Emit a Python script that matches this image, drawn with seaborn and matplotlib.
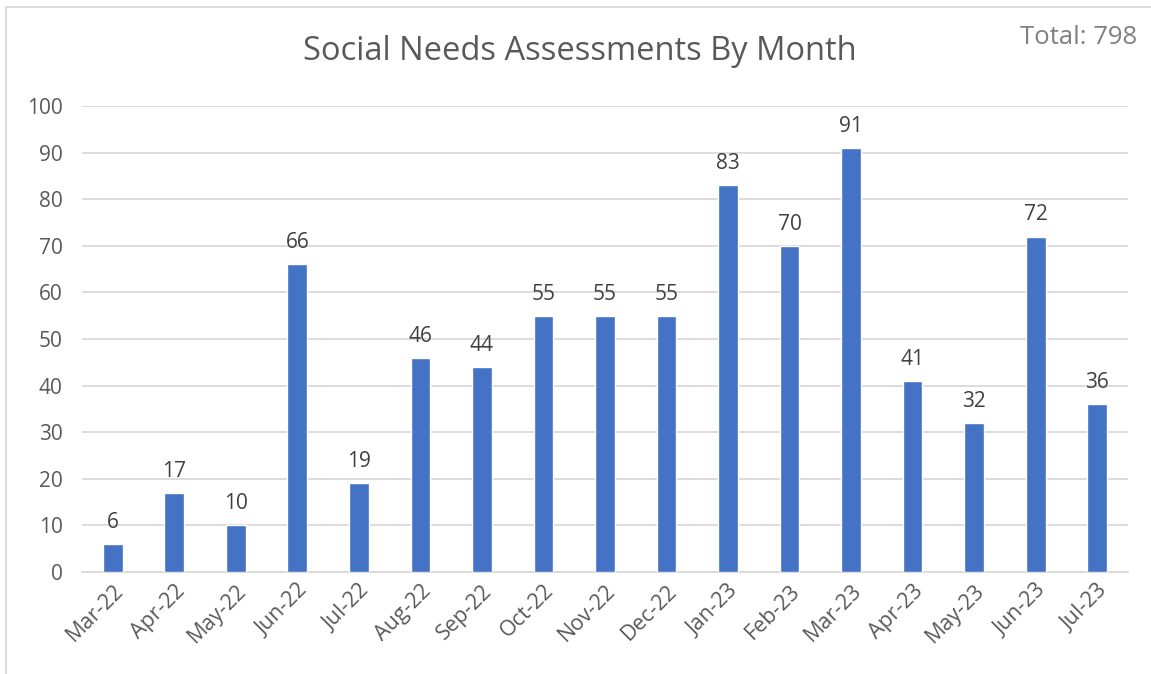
import matplotlib
matplotlib.use("Agg")
import matplotlib.pyplot as plt
import seaborn as sns
import pandas as pd
from matplotlib.patches import Rectangle

months = ["Mar-22", "Apr-22", "May-22", "Jun-22", "Jul-22", "Aug-22", "Sep-22", "Oct-22",
          "Nov-22", "Dec-22", "Jan-23", "Feb-23", "Mar-23", "Apr-23", "May-23", "Jun-23", "Jul-23"]
counts = [6, 17, 10, 66, 19, 46, 44, 55, 55, 55, 83, 70, 91, 41, 32, 72, 36]
yticks = [0, 10, 20, 30, 40, 50, 60, 70, 80, 90, 100]

sns.set_theme(style="white")
plt.rcParams['font.family'] = ['Open Sans', 'DejaVu Sans']

df = pd.DataFrame({"month": months, "count": counts})

fig = plt.figure(figsize=(11.51, 6.74), dpi=100)
ax = fig.add_axes([0.0712, 0.1513, 0.9088, 0.6914])

sns.barplot(data=df, x="month", y="count", color="#4472C4", width=0.32,
            saturation=1, ax=ax, zorder=3)

ax.set_ylim(0, 100)
ax.set_yticks(yticks)
ax.yaxis.grid(True, color="#D9D9D9", linewidth=1.3, zorder=0)
ax.set_axisbelow(True)
for s in ["top", "right", "left"]:
    ax.spines[s].set_visible(False)
ax.spines["bottom"].set_color("#D9D9D9")
ax.spines["bottom"].set_linewidth(1.3)
ax.set_xlabel("")
ax.set_ylabel("")
ax.tick_params(axis="y", length=0, colors="#595959", labelsize=15, pad=14)
ax.tick_params(axis="x", length=0, colors="#595959", labelsize=15.5, pad=6)
plt.setp(ax.get_xticklabels(), rotation=45, ha="right", rotation_mode="anchor")

for c in ax.containers:
    ax.bar_label(c, labels=[str(v) for v in counts], padding=8, fontsize=15, color="#404040")

fig.text(0.504, 0.924, "Social Needs Assessments By Month", ha="center", va="center",
         fontsize=23.5, color="#595959")
fig.text(0.988, 0.944, "Total: 798", ha="right", va="center", fontsize=18.5, color="#808080")

fig.patches.append(Rectangle((6 / 1151, -0.1), 1.2, 1.1 - 7 / 674,
                             transform=fig.transFigure, fill=False,
                             edgecolor="#D9D9D9", linewidth=1.3))

fig.savefig("out.png", dpi=100)
